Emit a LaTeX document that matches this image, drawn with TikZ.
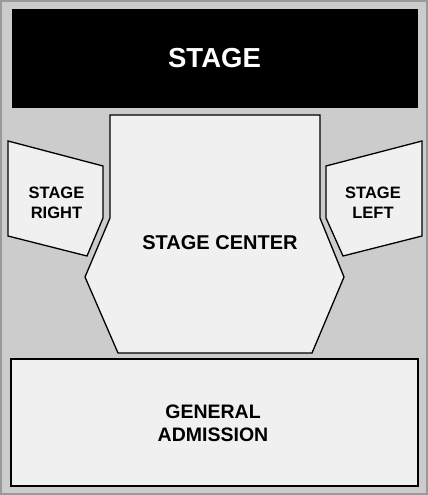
\documentclass[tikz,border=0pt]{standalone}
\usepackage{fontspec}
\setmainfont{Liberation Sans}
\begin{document}
\begin{tikzpicture}[x=1pt,y=-1pt,
  area/.style={draw=black,fill=areafill,line width=1.3pt,line join=miter},
  lbl/.style 2 args={font=\bfseries\fontsize{#1}{#2}\selectfont,align=center,text=black,inner sep=0pt}]
\definecolor{areafill}{HTML}{F0F0F0}
\definecolor{bgfill}{HTML}{CCCCCC}
\definecolor{bgline}{HTML}{999999}
\useasboundingbox (0,0) rectangle (428,495);
\path[fill=bgfill,draw=bgline,line width=2pt] (1,1) rectangle (427,494);
% stage
\node[fill=black,draw=bgfill,line width=1pt,minimum width=407pt,minimum height=100pt,anchor=north west,inner sep=0pt] (stage) at (10.5,8) {};
\node[lbl={27.5}{32},text=white] (stagetxt) at (stage.center) {STAGE};
% stage center
\path[area] (110,115) -- (320,115) -- (320,218) -- (344,277) -- (312,353) -- (118,353) -- (85,277) -- (110,218) -- cycle;
\coordinate (sc) at (220,243);
\node[lbl={20}{24}] (sctxt) at (sc) {STAGE CENTER};
% stage right
\path[area] (8,141) -- (103,166) -- (103,218) -- (87,256) -- (8,236) -- cycle;
\coordinate (sr) at (56.5,203);
\node[lbl={16.5}{20}] (srtxt) at (sr) {STAGE\\RIGHT};
% stage left
\path[area] (326,166) -- (422,141) -- (422,236) -- (343,256) -- (326,218) -- cycle;
\coordinate (sl) at (373,203);
\node[lbl={16.5}{20}] (sltxt) at (sl) {STAGE\\LEFT};
% general admission
\path[area] (11,359) rectangle (418,486);
\coordinate (ga) at (213,423);
\node[lbl={19.5}{23}] (gatxt) at (ga) {GENERAL\\ADMISSION};
\end{tikzpicture}
\end{document}
